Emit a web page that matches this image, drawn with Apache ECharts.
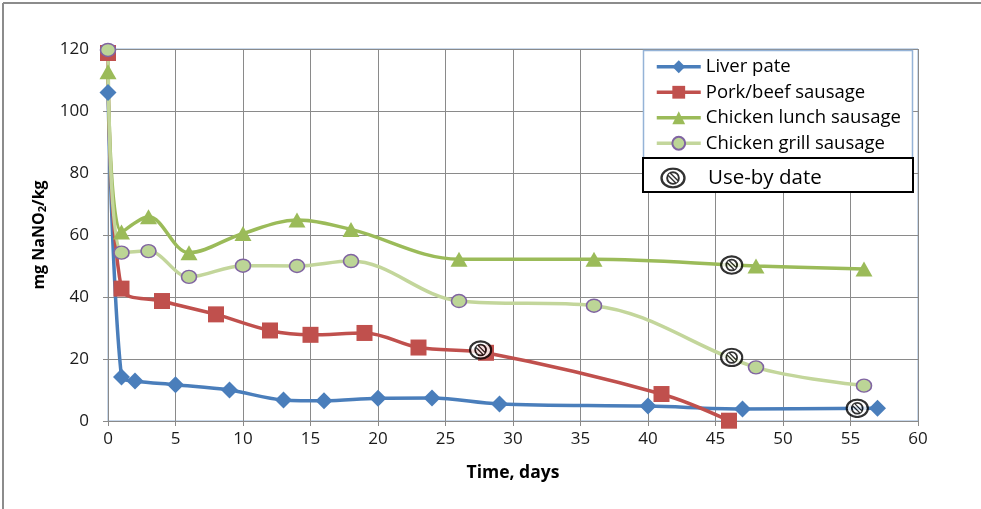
<!DOCTYPE html>
<html>
<head>
<meta charset="utf-8">
<script src="https://cdn.jsdelivr.net/npm/echarts@6/dist/echarts.min.js"></script>
<style>
  html, body { margin: 0; padding: 0; background: #fff; }
  #chart { width: 981px; height: 509px; }
</style>
</head>
<body>
<div id="chart"></div>
<script>
// Nitrite content over storage time
const daysLiver = [0, 1, 2, 5, 9, 13, 16, 20, 24, 29, 40, 47, 57];
const liverPate = [106, 14.2, 12.9, 11.7, 10, 6.8, 6.5, 7.3, 7.4, 5.5, 4.8, 3.9, 4.1];

const daysPork = [0, 1, 4, 8, 12, 15, 19, 23, 28, 41, 46];
const porkBeef = [118.7, 42.7, 38.7, 34.4, 29.2, 27.8, 28.4, 23.7, 22, 8.7, 0.1];

const daysLunch = [0, 1, 3, 6, 10, 14, 18, 26, 36, 48, 56];
const chickenLunch = [112.7, 61, 65.9, 54.3, 60.5, 64.8, 61.8, 52.2, 52.2, 50, 49];

const daysGrill = [0, 1, 3, 6, 10, 14, 18, 26, 36, 48, 56];
const chickenGrill = [119.7, 54.3, 54.8, 46.5, 50.1, 50, 51.6, 38.7, 37.2, 17.3, 11.4];

const useByDays = [27.6, 46.2, 46.2, 55.5];
const useByValues = [22.9, 50.3, 20.5, 4.1];

const xTicks = [0, 5, 10, 15, 20, 25, 30, 35, 40, 45, 50, 55, 60];
const yTicks = [0, 20, 40, 60, 80, 100, 120];

const pairs = (xs, ys) => xs.map((x, i) => [x, ys[i]]);

// "Use-by" badge: ringed prohibition sign
const badgeSvg =
  '<svg xmlns="http://www.w3.org/2000/svg" width="48" height="40" viewBox="0 0 24 20">' +
  '<ellipse cx="12" cy="10" rx="10.6" ry="8.7" fill="#fff" stroke="#000" stroke-width="2.2"/>' +
  '<circle cx="12" cy="10" r="5.4" fill="none" stroke="#000" stroke-width="1.8"/>' +
  '<line x1="8.4" y1="6.4" x2="15.6" y2="13.6" stroke="#000" stroke-width="4.2"/>' +
  '<line x1="8.4" y1="6.4" x2="15.6" y2="13.6" stroke="#fff" stroke-width="1.6"/>' +
  '</svg>';
const badgeSymbol = 'image://data:image/svg+xml;charset=utf-8,' + encodeURIComponent(badgeSvg);

const FONT = 'Open Sans';
const gridColor = '#8a8a8a';

const chart = echarts.init(document.getElementById('chart'), null, { renderer: 'canvas' });

function lineSeries(name, data, color, symbol, symbolSize, markerStyle, lineColor) {
  return {
    name: name,
    type: 'line',
    data: data,
    smooth: 0.35,
    symbol: symbol,
    symbolSize: symbolSize,
    showAllSymbol: true,
    lineStyle: { color: lineColor || color, width: 3.5 },
    itemStyle: Object.assign({ color: color, opacity: 1 }, markerStyle || {}),
    emphasis: { disabled: true },
    z: 3
  };
}

chart.setOption({
  animation: false,
  backgroundColor: '#fff',
  textStyle: { fontFamily: FONT },
  grid: {
    left: 108, right: 63, top: 49, bottom: 88,
    show: true, borderColor: '#95b3d7', borderWidth: 1, backgroundColor: 'transparent'
  },
  graphic: [
    { type: 'line', shape: { x1: 3, y1: 3, x2: 981, y2: 3 }, style: { stroke: '#8c8c8c', lineWidth: 2 }, z: 10 },
    { type: 'line', shape: { x1: 3, y1: 3, x2: 3, y2: 509 }, style: { stroke: '#8c8c8c', lineWidth: 2 }, z: 10 },
    { type: 'rect', shape: { x: 643.5, y: 50.5, width: 269, height: 108 },
      style: { fill: '#fff', stroke: '#95b3d7', lineWidth: 1.5 }, z: 5 },
    { type: 'rect', shape: { x: 643, y: 158, width: 270, height: 34 },
      style: { fill: '#fff', stroke: '#000', lineWidth: 2 }, z: 5 }
  ],
  legend: [
    {
      data: ['Liver pate', 'Pork/beef sausage', 'Chicken lunch sausage', 'Chicken grill sausage'],
      orient: 'vertical',
      left: 655, top: 54,
      itemWidth: 44, itemHeight: 16, itemGap: 0,
      padding: 0,
      lineStyle: { width: 3.5 },
      textStyle: { fontFamily: FONT, fontSize: 18.5, lineHeight: 25.5, color: '#000', padding: [0, 0, 0, 0] },
      z: 6
    },
    {
      data: ['Use-by date'],
      left: 660, top: 167,
      itemWidth: 26, itemHeight: 22,
      padding: 0,
      textStyle: { fontFamily: FONT, fontSize: 20.5, color: '#000', padding: [0, 0, 0, 17] },
      z: 6
    }
  ],
  xAxis: {
    type: 'value',
    min: xTicks[0], max: xTicks[xTicks.length - 1], interval: 5,
    name: 'Time, days',
    nameLocation: 'middle',
    nameGap: 43,
    nameTextStyle: { fontFamily: FONT, fontWeight: 'bold', fontSize: 17.5, color: '#000' },
    axisLine: { show: true, onZero: false, lineStyle: { color: gridColor, width: 1 } },
    axisTick: { show: true, length: 5, lineStyle: { color: gridColor } },
    axisLabel: { fontFamily: FONT, fontSize: 17, color: '#1a1a1a', margin: 10 },
    splitLine: { show: true, lineStyle: { color: gridColor, width: 1 } }
  },
  yAxis: {
    type: 'value',
    min: yTicks[0], max: yTicks[yTicks.length - 1], interval: 20,
    name: 'mg NaNO{sub|2}/kg',
    nameLocation: 'middle',
    nameGap: 60,
    nameRotate: 90,
    nameTextStyle: {
      fontFamily: FONT, fontWeight: 'bold', fontSize: 16, color: '#000',
      rich: { sub: { fontFamily: FONT, fontWeight: 'bold', fontSize: 11, color: '#000', verticalAlign: 'bottom', padding: [6, 0, 0, 0] } }
    },
    axisLine: { show: true, lineStyle: { color: gridColor, width: 1 } },
    axisTick: { show: true, length: 5, lineStyle: { color: gridColor } },
    axisLabel: { fontFamily: FONT, fontSize: 17, color: '#1a1a1a', margin: 19 },
    splitLine: { show: true, lineStyle: { color: gridColor, width: 1 } }
  },
  series: [
    lineSeries('Liver pate', pairs(daysLiver, liverPate), '#4a7ebb', 'diamond', [17, 17]),
    lineSeries('Pork/beef sausage', pairs(daysPork, porkBeef), '#c0504d', 'rect', [16, 16]),
    lineSeries('Chicken lunch sausage', pairs(daysLunch, chickenLunch), '#9bbb59', 'triangle', [17, 15]),
    lineSeries('Chicken grill sausage', pairs(daysGrill, chickenGrill), '#bcd596', 'circle', [15, 13],
      { borderColor: '#8064a2', borderWidth: 1.5 }, '#c3d69b'),
    {
      name: 'Use-by date',
      type: 'scatter',
      data: pairs(useByDays, useByValues),
      symbol: badgeSymbol,
      symbolSize: [24, 20],
      emphasis: { disabled: true },
      z: 8
    }
  ]
});
</script>
</body>
</html>
